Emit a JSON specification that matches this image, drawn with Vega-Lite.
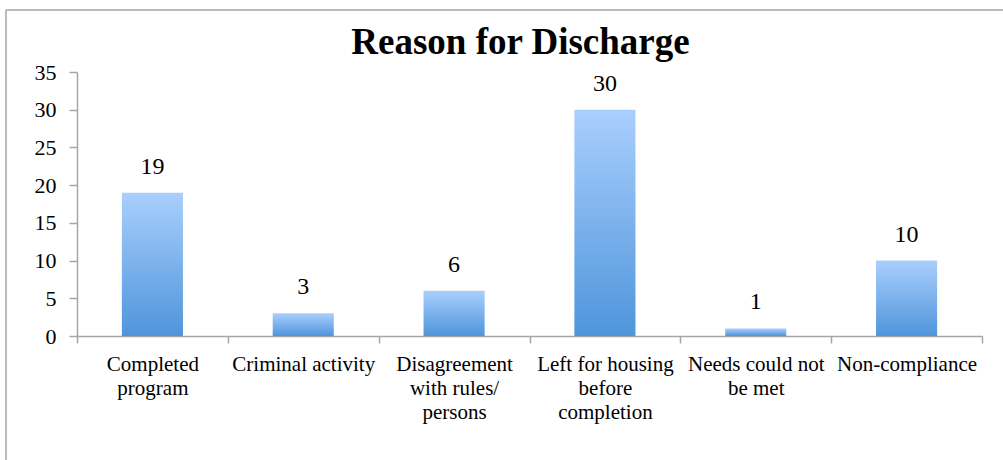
{
  "$schema": "https://vega.github.io/schema/vega-lite/v6.json",
  "autosize": "none",
  "width": 997,
  "height": 450,
  "padding": {"left": 6, "top": 10, "right": 0, "bottom": 0},
  "background": "white",
  "config": {
    "view": {"stroke": "#a6a6a6", "strokeWidth": 1.5, "strokeDash": [997, 1447, 450, 0]},
    "font": "Liberation Serif"
  },
  "title": {
    "text": "Reason for Discharge",
    "font": "Liberation Serif",
    "fontSize": 37,
    "fontWeight": "bold",
    "color": "black",
    "anchor": "middle",
    "offset": -52,
    "dx": 16
  },
  "data": {
    "values": [
      {"reason": "Completed program", "count": 19},
      {"reason": "Criminal activity", "count": 3},
      {"reason": "Disagreement with rules/persons", "count": 6},
      {"reason": "Left for housing before completion", "count": 30},
      {"reason": "Needs could not be met", "count": 1},
      {"reason": "Non-compliance", "count": 10}
    ]
  },
  "encoding": {
    "x": {
      "field": "reason",
      "type": "nominal",
      "sort": null,
      "scale": {"range": [71, 976], "paddingInner": 0, "paddingOuter": 0},
      "axis": {
        "title": null,
        "offset": -124,
        "labelAngle": 0,
        "labelFont": "Liberation Serif",
        "labelFontSize": 21,
        "labelColor": "black",
        "labelLineHeight": 24,
        "labelPadding": 10,
        "labelBaseline": "top",
        "labelLimit": 200,
        "tickBand": "extent",
        "tickSize": 7,
        "tickColor": "#a6a6a6",
        "domainColor": "#a6a6a6",
        "tickWidth": 1.5,
        "domainWidth": 1.5,
        "grid": false,
        "labelExpr": "datum.value === 'Completed program' ? ['Completed', 'program'] : datum.value === 'Disagreement with rules/persons' ? ['Disagreement', 'with rules/', 'persons'] : datum.value === 'Left for housing before completion' ? ['Left for housing', 'before', 'completion'] : datum.value === 'Needs could not be met' ? ['Needs could not', 'be met'] : datum.value"
      }
    },
    "y": {
      "field": "count",
      "type": "quantitative",
      "scale": {"domain": [0, 35], "range": [326, 62], "nice": false},
      "axis": {
        "title": null,
        "offset": -71,
        "values": [0, 5, 10, 15, 20, 25, 30, 35],
        "labelFont": "Liberation Serif",
        "labelFontSize": 22,
        "labelColor": "black",
        "labelPadding": 13,
        "tickSize": 8,
        "tickColor": "#a6a6a6",
        "domainColor": "#a6a6a6",
        "tickWidth": 1.5,
        "domainWidth": 1.5,
        "grid": false
      }
    }
  },
  "layer": [
    {
      "mark": {
        "type": "bar",
        "width": {"band": 0.405},
        "color": {
          "gradient": "linear",
          "x1": 0, "y1": 0, "x2": 0, "y2": 1,
          "stops": [
            {"offset": 0, "color": "#a9cffd"},
            {"offset": 1, "color": "#4f95db"}
          ]
        }
      }
    },
    {
      "mark": {
        "type": "text",
        "font": "Liberation Serif",
        "fontSize": 24,
        "color": "black",
        "baseline": "alphabetic",
        "dy": -19
      },
      "encoding": {"text": {"field": "count", "type": "quantitative"}}
    }
  ]
}
